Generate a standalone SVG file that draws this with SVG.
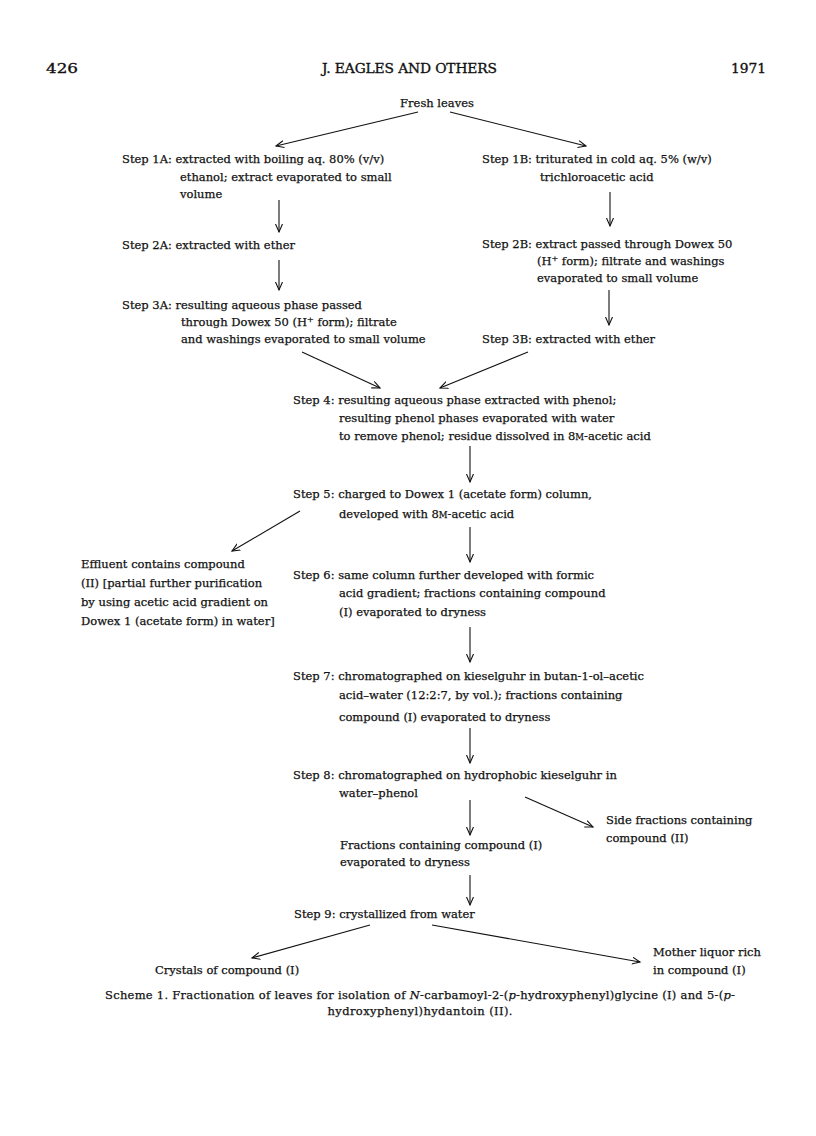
<svg xmlns="http://www.w3.org/2000/svg" width="816" height="1136" viewBox="0 0 816 1136">
<style>
text{font-family:"DejaVu Serif","Liberation Serif",serif;font-size:11.5px;fill:#111;stroke:#111;stroke-width:0.25}
.hd{font-size:13.8px;stroke-width:0.35}
.cap{font-size:11.5px}
.sc{font-size:8.5px}
.sup{font-size:8px}
.con line{stroke:#111;stroke-width:1.1;fill:none}
</style>
<defs>
<marker id="ah" markerWidth="10" markerHeight="10" refX="8" refY="4" orient="auto" markerUnits="userSpaceOnUse">
<path d="M0,0.5 L8,4 L0,7.5" fill="none" stroke="#111" stroke-width="1.1"/>
</marker>
</defs>
<rect width="816" height="1136" fill="#fff"/>
<g id="header">
<text class="hd" x="46" y="73" textLength="32" lengthAdjust="spacingAndGlyphs">426</text>
<text class="hd" x="322" y="73" textLength="175">J. EAGLES AND OTHERS</text>
<text class="hd" x="766" y="73" text-anchor="end">1971</text>
</g>
<g id="fresh"><text x="437" y="107" text-anchor="middle">Fresh leaves</text></g>
<g id="step1a">
<text x="122" y="163">Step 1A: extracted with boiling aq. 80% (v/v)</text>
<text x="180" y="181">ethanol; extract evaporated to small</text>
<text x="180" y="198">volume</text>
</g>
<g id="step2a"><text x="122" y="249">Step 2A: extracted with ether</text></g>
<g id="step3a">
<text x="122" y="309">Step 3A: resulting aqueous phase passed</text>
<text x="181" y="326">through Dowex 50 (H<tspan class="sup" dy="-4">+</tspan><tspan dy="4"> form); filtrate</tspan></text>
<text x="181" y="343">and washings evaporated to small volume</text>
</g>
<g id="step1b">
<text x="482" y="163">Step 1B: triturated in cold aq. 5% (w/v)</text>
<text x="540" y="181">trichloroacetic acid</text>
</g>
<g id="step2b">
<text x="482" y="248">Step 2B: extract passed through Dowex 50</text>
<text x="537" y="265">(H<tspan class="sup" dy="-4">+</tspan><tspan dy="4"> form); filtrate and washings</tspan></text>
<text x="537" y="282">evaporated to small volume</text>
</g>
<g id="step3b"><text x="482" y="343">Step 3B: extracted with ether</text></g>
<g id="step4">
<text x="293" y="404">Step 4: resulting aqueous phase extracted with phenol;</text>
<text x="339" y="422">resulting phenol phases evaporated with water</text>
<text x="339" y="440">to remove phenol; residue dissolved in 8<tspan class="sc">M</tspan>-acetic acid</text>
</g>
<g id="step5">
<text x="293" y="498">Step 5: charged to Dowex 1 (acetate form) column,</text>
<text x="339" y="518">developed with 8<tspan class="sc">M</tspan>-acetic acid</text>
</g>
<g id="effluent">
<text x="81" y="568">Effluent contains compound</text>
<text x="81" y="587">(II) [partial further purification</text>
<text x="81" y="606">by using acetic acid gradient on</text>
<text x="81" y="625">Dowex 1 (acetate form) in water]</text>
</g>
<g id="step6">
<text x="293" y="579">Step 6: same column further developed with formic</text>
<text x="339" y="597">acid gradient; fractions containing compound</text>
<text x="339" y="616">(I) evaporated to dryness</text>
</g>
<g id="step7">
<text x="293" y="680">Step 7: chromatographed on kieselguhr in butan-1-ol–acetic</text>
<text x="339" y="699">acid–water (12:2:7, by vol.); fractions containing</text>
<text x="339" y="721">compound (I) evaporated to dryness</text>
</g>
<g id="step8">
<text x="293" y="779">Step 8: chromatographed on hydrophobic kieselguhr in</text>
<text x="339" y="797">water–phenol</text>
</g>
<g id="side">
<text x="606" y="824">Side fractions containing</text>
<text x="606" y="842">compound (II)</text>
</g>
<g id="fractions">
<text x="340" y="849">Fractions containing compound (I)</text>
<text x="340" y="866">evaporated to dryness</text>
</g>
<g id="step9"><text x="294" y="918">Step 9: crystallized from water</text></g>
<g id="crystals"><text x="155" y="974">Crystals of compound (I)</text></g>
<g id="mother">
<text x="653" y="956">Mother liquor rich</text>
<text x="653" y="974">in compound (I)</text>
</g>
<g id="caption">
<text class="cap" x="105" y="999" textLength="630">Scheme 1. Fractionation of leaves for isolation of <tspan font-style="italic">N</tspan>-carbamoyl-2-(<tspan font-style="italic">p</tspan>-hydroxyphenyl)glycine (I) and 5-(<tspan font-style="italic">p</tspan>-</text>
<text class="cap" x="420" y="1015" text-anchor="middle" textLength="185">hydroxyphenyl)hydantoin (II).</text>
</g>
<g class="con" id="connectors">
<line x1="418" y1="112" x2="276" y2="146" marker-end="url(#ah)"/>
<line x1="450" y1="112" x2="586" y2="146" marker-end="url(#ah)"/>
<line x1="279" y1="200" x2="279" y2="232" marker-end="url(#ah)"/>
<line x1="279" y1="260" x2="279" y2="290" marker-end="url(#ah)"/>
<line x1="610" y1="192" x2="610" y2="226" marker-end="url(#ah)"/>
<line x1="609" y1="290" x2="609" y2="325" marker-end="url(#ah)"/>
<line x1="302" y1="352" x2="380" y2="388" marker-end="url(#ah)"/>
<line x1="528" y1="352" x2="440" y2="388" marker-end="url(#ah)"/>
<line x1="470" y1="446" x2="470" y2="482" marker-end="url(#ah)"/>
<line x1="300" y1="511" x2="232" y2="551" marker-end="url(#ah)"/>
<line x1="470" y1="527" x2="470" y2="562" marker-end="url(#ah)"/>
<line x1="470" y1="627" x2="470" y2="662" marker-end="url(#ah)"/>
<line x1="470" y1="728" x2="470" y2="763" marker-end="url(#ah)"/>
<line x1="470" y1="800" x2="470" y2="835" marker-end="url(#ah)"/>
<line x1="525" y1="797" x2="593" y2="827" marker-end="url(#ah)"/>
<line x1="470" y1="875" x2="470" y2="905" marker-end="url(#ah)"/>
<line x1="370" y1="925" x2="252" y2="958" marker-end="url(#ah)"/>
<line x1="432" y1="925" x2="640" y2="962" marker-end="url(#ah)"/>
</g>
</svg>
